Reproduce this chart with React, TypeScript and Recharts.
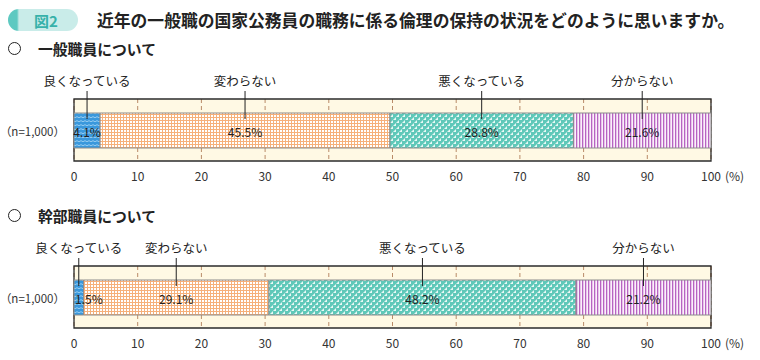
import { BarChart, Bar, XAxis, YAxis, CartesianGrid, ReferenceArea, LabelList } from "recharts"

const categories = ["良くなっている", "変わらない", "悪くなっている", "分からない"]
const generalValues = [4.1, 45.5, 28.8, 21.6]
const executiveValues = [1.5, 29.1, 48.2, 21.2]
const xTicks = [0, 10, 20, 30, 40, 50, 60, 70, 80, 90, 100]
const sampleLabel = "（n=1,000）"

const segmentKeys = ["s0", "s1", "s2", "s3"]
const segmentFills = ["url(#pBlue)", "url(#pOrange)", "url(#pTeal)", "url(#pPurple)"]
const FONT = "'Noto Sans CJK JP', 'Noto Sans', sans-serif"

function makeRow(values: number[]) {
  const row: Record<string, string | number> = { name: sampleLabel }
  values.forEach((v, i) => { row[segmentKeys[i]] = v })
  return [row]
}

function SegmentLabel(props: any, name: string) {
  const vb = props.viewBox ?? props
  const x = Number(vb.x), y = Number(vb.y), width = Number(vb.width), height = Number(vb.height)
  const cx = x + width / 2
  const narrow = width < 20
  return (
    <g>
      <text x={cx} y={y - 33} textAnchor="middle" dominantBaseline="central" fontSize={12.5} fill="#222" fontFamily={FONT}>{name}</text>
      <line x1={cx} x2={cx} y1={y - 22} y2={y + 6} stroke="#222" strokeWidth={1} />
      <text x={narrow ? x + 1 : cx} y={y + height / 2 + 1} textAnchor={narrow ? "start" : "middle"} dominantBaseline="central" fontSize={12} fill="#222" fontFamily={FONT}>
        {Number(props.value).toFixed(1)}%
      </text>
    </g>
  )
}

function XTick(props: any) {
  const { x, y, payload } = props
  return (
    <g>
      <text x={x} y={y} dy={6} textAnchor="middle" dominantBaseline="central" fontSize={12} fill="#333" fontFamily={FONT}>{payload.value}</text>
      {payload.value === 100 && (
        <text x={x + 14} y={y} dy={6} textAnchor="start" dominantBaseline="central" fontSize={12} fill="#333" fontFamily={FONT}>(%)</text>
      )}
    </g>
  )
}

function YTick(props: any) {
  const { y, payload } = props
  return (
    <text x={65} y={y} dy={1} textAnchor="end" dominantBaseline="central" fontSize={11.5} fill="#333" fontFamily={FONT}>{payload.value}</text>
  )
}

function StackedChart({ values }: { values: number[] }) {
  return (
    <BarChart width={760} height={125} data={makeRow(values)} layout="vertical" margin={{ top: 39, right: 49, left: 0, bottom: 0 }}>
      <CartesianGrid horizontal={false} strokeDasharray="4 3" stroke="#b98b68" fill="#fff9e4" />
      <XAxis type="number" domain={[0, 100]} ticks={xTicks} interval={0} axisLine={false} tickLine={false} height={24} tick={<XTick />} />
      <YAxis type="category" dataKey="name" width={74} axisLine={false} tickLine={false} tick={<YTick />} />
      <ReferenceArea x1={0} x2={100} fill="none" stroke="#2b2b2b" strokeWidth={1.3} />
      {segmentKeys.map((k, i) => (
        <Bar key={k} dataKey={k} stackId="a" fill={segmentFills[i]} stroke="#8c8c8c" strokeWidth={1} barSize={35} isAnimationActive={false}>
          <LabelList dataKey={k} content={(p: any) => SegmentLabel(p, categories[i])} />
        </Bar>
      ))}
    </BarChart>
  )
}

function Heading({ top, text }: { top: number; text: string }) {
  return (
    <div style={{ position: "absolute", left: 8, top, height: 20, display: "flex", alignItems: "center", fontFamily: FONT, fontWeight: 700, fontSize: 14.8, color: "#222" }}>
      <span style={{ display: "inline-block", width: 11, height: 11, border: "1.5px solid #222", borderRadius: "50%", marginRight: 17 }} />
      {text}
    </div>
  )
}

export default function App() {
  return (
    <div style={{ position: "absolute", left: 0, top: 0, width: 760, height: 360, background: "#fff", fontFamily: FONT }}>
      <svg width={0} height={0} style={{ position: "absolute" }}>
        <defs>
          <pattern id="pBlue" width={4} height={4} patternUnits="userSpaceOnUse">
            <rect width={4} height={4} fill="#3a98dc" />
            <path d="M0 1.2 Q1 0.2 2 1.2 T4 1.2" stroke="#bfe3f8" strokeWidth={0.7} fill="none" />
          </pattern>
          <pattern id="pOrange" width={3} height={3} patternUnits="userSpaceOnUse">
            <rect width={3} height={3} fill="#fff" />
            <rect width={3} height={1} fill="#f6b07a" />
            <rect width={1} height={3} fill="#f6b07a" />
          </pattern>
          <pattern id="pTeal" width={6} height={6} patternUnits="userSpaceOnUse">
            <rect width={6} height={6} fill="#5fc8b9" />
            <path d="M0 3 L3 0 L3 3 Z" fill="#e8f8f5" />
            <path d="M3 6 L6 3 L6 6 Z" fill="#e8f8f5" />
          </pattern>
          <pattern id="pPurple" width={3} height={3} patternUnits="userSpaceOnUse">
            <rect width={3} height={3} fill="#fbf1fb" />
            <rect width={1.3} height={3} fill="#b764c2" />
          </pattern>
        </defs>
      </svg>

      <div style={{ position: "absolute", left: 8, top: 9, width: 70, height: 22, borderRadius: 11, background: "linear-gradient(90deg, #5ec9c1 0px, #5ec9c1 9px, #c9ece9 11px, #c9ece9 100%)", display: "flex", alignItems: "center", justifyContent: "center" }}>
        <span style={{ marginLeft: 6, fontWeight: 700, fontSize: 15, color: "#36b1aa" }}>図2</span>
      </div>
      <div style={{ position: "absolute", left: 97, top: 9, height: 22, display: "flex", alignItems: "center", fontWeight: 700, fontSize: 16.8, color: "#222", whiteSpace: "nowrap" }}>
        近年の一般職の国家公務員の職務に係る倫理の保持の状況をどのように思いますか。
      </div>

      <Heading top={38} text="一般職員について" />
      <div style={{ position: "absolute", left: 0, top: 60 }}>
        <StackedChart values={generalValues} />
      </div>

      <Heading top={205} text="幹部職員について" />
      <div style={{ position: "absolute", left: 0, top: 227 }}>
        <StackedChart values={executiveValues} />
      </div>
    </div>
  )
}
